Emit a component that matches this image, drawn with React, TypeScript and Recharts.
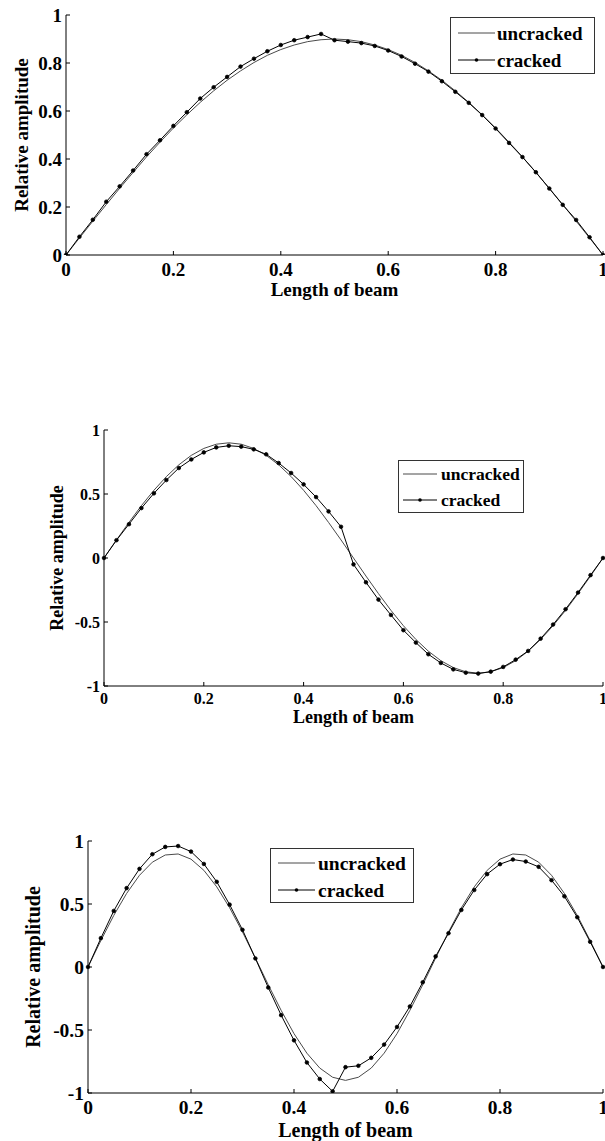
import React from 'react';
import { LineChart, Line, XAxis, YAxis, Legend, Label } from 'recharts';

const xPositions = [
  0, 0.025, 0.05, 0.075, 0.1, 0.125, 0.15, 0.175, 0.2, 0.225, 0.25, 0.275, 0.3, 0.325, 0.35, 0.375, 0.4,
  0.425, 0.45, 0.475, 0.5, 0.525, 0.55, 0.575, 0.6, 0.625, 0.65, 0.675, 0.7, 0.725, 0.75, 0.775, 0.8,
  0.825, 0.85, 0.875, 0.9, 0.925, 0.95, 0.975, 1,
];

const uncracked1 = [
  0, 0.071, 0.141, 0.21, 0.278, 0.344, 0.409, 0.47, 0.529, 0.584, 0.636, 0.684, 0.728, 0.767, 0.802, 0.832,
  0.856, 0.875, 0.889, 0.897, 0.9, 0.897, 0.889, 0.875, 0.856, 0.832, 0.802, 0.767, 0.728, 0.684, 0.636,
  0.584, 0.529, 0.47, 0.409, 0.344, 0.278, 0.21, 0.141, 0.071, 0,
];
const cracked1 = [
  0, 0.076, 0.147, 0.222, 0.286, 0.352, 0.42, 0.478, 0.538, 0.595, 0.652, 0.699, 0.742, 0.785, 0.818, 0.849,
  0.875, 0.895, 0.908, 0.921, 0.895, 0.889, 0.883, 0.871, 0.852, 0.827, 0.797, 0.764, 0.724, 0.68, 0.634,
  0.583, 0.527, 0.467, 0.408, 0.345, 0.277, 0.209, 0.146, 0.074, 0,
];

const uncracked2 = [
  0, 0.141, 0.278, 0.409, 0.529, 0.636, 0.728, 0.802, 0.856, 0.889, 0.9, 0.889, 0.856, 0.802, 0.728, 0.636,
  0.529, 0.409, 0.278, 0.141, 0, -0.141, -0.278, -0.409, -0.529, -0.636, -0.728, -0.802, -0.856, -0.889,
  -0.9, -0.889, -0.856, -0.802, -0.728, -0.636, -0.529, -0.409, -0.278, -0.141, 0,
];
const cracked2 = [
  0, 0.139, 0.264, 0.39, 0.505, 0.609, 0.703, 0.77, 0.825, 0.864, 0.877, 0.87, 0.849, 0.81, 0.742, 0.664,
  0.575, 0.476, 0.364, 0.244, -0.05, -0.19, -0.325, -0.445, -0.564, -0.661, -0.752, -0.82, -0.87, -0.896,
  -0.903, -0.888, -0.851, -0.794, -0.726, -0.63, -0.52, -0.4, -0.27, -0.134, 0,
];

const uncracked3 = [
  0, 0.21, 0.409, 0.584, 0.728, 0.832, 0.889, 0.897, 0.856, 0.767, 0.636, 0.47, 0.278, 0.071, -0.141, -0.344,
  -0.529, -0.684, -0.802, -0.875, -0.9, -0.875, -0.802, -0.684, -0.529, -0.344, -0.141, 0.071, 0.278, 0.47,
  0.636, 0.767, 0.856, 0.897, 0.889, 0.832, 0.728, 0.584, 0.409, 0.21, 0,
];
const cracked3 = [
  0, 0.229, 0.445, 0.626, 0.779, 0.895, 0.953, 0.96, 0.916, 0.818, 0.676, 0.495, 0.295, 0.068, -0.163, -0.382,
  -0.582, -0.758, -0.889, -0.987, -0.795, -0.784, -0.721, -0.616, -0.476, -0.313, -0.121, 0.084, 0.268, 0.453,
  0.611, 0.737, 0.816, 0.853, 0.837, 0.795, 0.689, 0.561, 0.395, 0.2, 0,
];

const xTicks = [0, 0.2, 0.4, 0.6, 0.8, 1];
const yTicksPositive = [0, 0.2, 0.4, 0.6, 0.8, 1];
const yTicksSymmetric = [-1, -0.5, 0, 0.5, 1];

const seriesNames = ['uncracked', 'cracked'];
const xAxisTitle = 'Length of beam';
const yAxisTitle = 'Relative amplitude';

const FONT = "'Liberation Serif', 'Times New Roman', serif";
const UNCRACKED_COLOR = '#4a4a4a';
const CRACKED_COLOR = '#000000';

const buildData = (u: number[], c: number[]) =>
  xPositions.map((x, i) => ({ x, uncracked: u[i], cracked: c[i] }));

type Cfg = {
  top: number;
  height: number;
  marginTop: number;
  yAxisWidth: number;
  xAxisHeight: number;
  tickFont: number;
  labelFont: number;
  legendFont: number;
  yTicks: number[];
  yDomain: [number, number];
  yLabelDx: number;
  xLabelBaseline: number;
  xTickMargin: number;
  legend: {
    left: number; top: number; w: number; h: number;
    lineX0: number; lineX1: number; textX: number; row1: number; row2: number;
  };
  data: any[];
};

const charts: Cfg[] = [
  {
    top: 0, height: 300, marginTop: 15, yAxisWidth: 66, xAxisHeight: 45,
    tickFont: 19, labelFont: 19, legendFont: 19,
    yTicks: yTicksPositive, yDomain: [0, 1], yLabelDx: 21, xLabelBaseline: 41, xTickMargin: 11.5,
    legend: { left: 450, top: 17, w: 145, h: 57, lineX0: 8, lineX1: 45, textX: 47, row1: 16, row2: 43 },
    data: buildData(uncracked1, cracked1),
  },
  {
    top: 410, height: 325, marginTop: 20, yAxisWidth: 104, xAxisHeight: 49,
    tickFont: 16, labelFont: 18, legendFont: 17.5,
    yTicks: yTicksSymmetric, yDomain: [-1, 1], yLabelDx: 57, xLabelBaseline: 37, xTickMargin: 11,
    legend: { left: 398, top: 50, w: 126, h: 53, lineX0: 5, lineX1: 39, textX: 43, row1: 14, row2: 40 },
    data: buildData(uncracked2, cracked2),
  },
  {
    top: 820, height: 321, marginTop: 21, yAxisWidth: 88, xAxisHeight: 48,
    tickFont: 19.5, labelFont: 20, legendFont: 19.5,
    yTicks: yTicksSymmetric, yDomain: [-1, 1], yLabelDx: 33, xLabelBaseline: 44, xTickMargin: 11.3,
    legend: { left: 270, top: 28, w: 144, h: 55, lineX0: 8, lineX1: 45, textX: 48, row1: 15, row2: 42 },
    data: buildData(uncracked3, cracked3),
  },
];

const makeLegend = (cfg: Cfg) => (props: any) => {
  const L = cfg.legend;
  const payload: any[] = props.payload || [];
  const ordered = seriesNames
    .map((n) => payload.find((p: any) => p.value === n))
    .filter(Boolean);
  return (
    <svg width={L.w} height={L.h} style={{ display: 'block' }}>
      <rect x={0.5} y={0.5} width={L.w - 1} height={L.h - 1} fill="#fff" stroke="#333" strokeWidth={1} />
      {ordered.map((p: any, i: number) => {
        const y = i === 0 ? L.row1 : L.row2;
        const isCracked = p.value === 'cracked';
        return (
          <g key={i}>
            <line x1={L.lineX0} x2={L.lineX1} y1={y} y2={y} stroke={p.color} strokeWidth={1} />
            {isCracked && <circle cx={(L.lineX0 + L.lineX1) / 2} cy={y} r={1.8} fill="#000" />}
            <text
              x={L.textX}
              y={y}
              dominantBaseline="central"
              fontFamily={FONT}
              fontWeight="bold"
              fontSize={cfg.legendFont}
              fill="#000"
            >
              {p.value}
            </text>
          </g>
        );
      })}
    </svg>
  );
};

const makeYLabel = (cfg: Cfg) => (props: any) => {
  const vb = props.viewBox || { x: 0, y: 0, width: 0, height: 0 };
  const cx = vb.x + cfg.yLabelDx;
  const cy = vb.y + vb.height / 2;
  return (
    <text
      x={cx}
      y={cy}
      transform={`rotate(-90 ${cx} ${cy})`}
      textAnchor="middle"
      dominantBaseline="central"
      fontFamily={FONT}
      fontWeight="bold"
      fontSize={cfg.labelFont}
      fill="#000"
    >
      {yAxisTitle}
    </text>
  );
};

const makeXLabel = (cfg: Cfg) => (props: any) => {
  const vb = props.viewBox || { x: 0, y: 0, width: 0, height: 0 };
  const cx = vb.x + vb.width / 2;
  const cy = vb.y + cfg.xLabelBaseline;
  return (
    <text
      x={cx}
      y={cy}
      textAnchor="middle"
      fontFamily={FONT}
      fontWeight="bold"
      fontSize={cfg.labelFont}
      fill="#000"
    >
      {xAxisTitle}
    </text>
  );
};

const Panel = ({ cfg }: { cfg: Cfg }) => {
  const tickStyle = { fontFamily: FONT, fontWeight: 'bold' as const, fontSize: cfg.tickFont, fill: '#000' };
  return (
    <div style={{ position: 'absolute', left: 0, top: cfg.top, width: 605, height: cfg.height }}>
      <LineChart
        width={605}
        height={cfg.height}
        data={cfg.data}
        margin={{ top: cfg.marginTop, right: 2, left: 0, bottom: 0 }}
      >
        <XAxis
          dataKey="x"
          type="number"
          domain={[0, 1]}
          ticks={xTicks}
          height={cfg.xAxisHeight}
          tickSize={-4}
          tickMargin={cfg.xTickMargin}
          tick={tickStyle}
          axisLine={{ stroke: '#000', strokeWidth: 1 }}
          tickLine={{ stroke: '#000' }}
          interval={0}
        >
          <Label content={makeXLabel(cfg)} />
        </XAxis>
        <YAxis
          type="number"
          domain={cfg.yDomain}
          ticks={cfg.yTicks}
          width={cfg.yAxisWidth}
          tickSize={-4}
          tickMargin={8}
          tick={tickStyle}
          axisLine={{ stroke: '#000', strokeWidth: 1 }}
          tickLine={{ stroke: '#000' }}
          allowDataOverflow
          interval={0}
        >
          <Label content={makeYLabel(cfg)} />
        </YAxis>
        <Legend
          layout="horizontal"
          verticalAlign="middle"
          align="center"
          content={makeLegend(cfg)}
          wrapperStyle={{ left: cfg.legend.left, top: cfg.legend.top, width: cfg.legend.w, height: cfg.legend.h }}
        />
        <Line
          type="linear"
          dataKey="uncracked"
          name={seriesNames[0]}
          stroke={UNCRACKED_COLOR}
          strokeWidth={1}
          dot={false}
          activeDot={false}
          isAnimationActive={false}
        />
        <Line
          type="linear"
          dataKey="cracked"
          name={seriesNames[1]}
          stroke={CRACKED_COLOR}
          strokeWidth={1}
          dot={{ r: 1.8, fill: '#000', stroke: '#000', strokeWidth: 0.8 }}
          activeDot={false}
          isAnimationActive={false}
        />
      </LineChart>
    </div>
  );
}

export default function App() {
  return (
    <div style={{ position: 'absolute', left: 0, top: 0, width: 605, height: 1141, background: '#fff' }}>
      {charts.map((cfg, i) => (
        <Panel key={i} cfg={cfg} />
      ))}
    </div>
  );
}
